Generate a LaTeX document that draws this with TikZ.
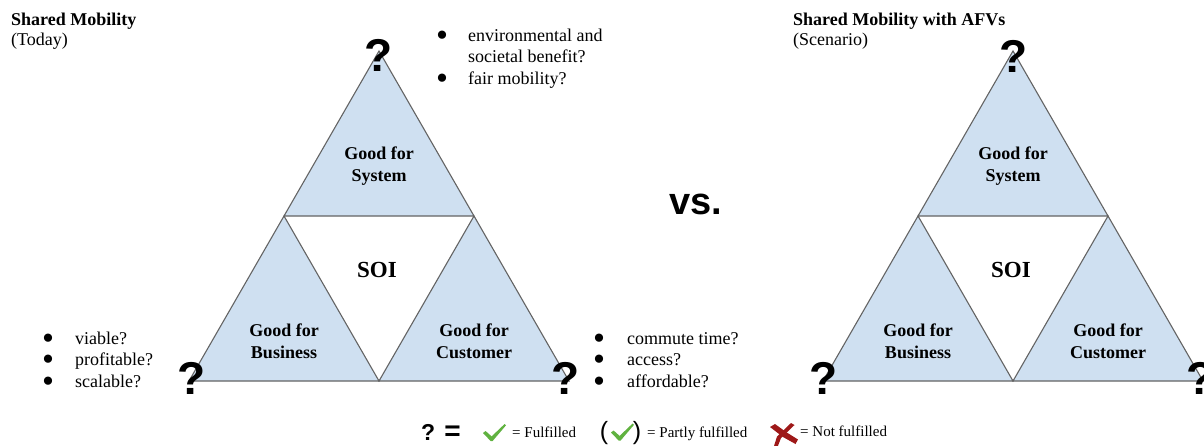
\documentclass[tikz,border=0pt]{standalone}
\usepackage{fontspec}
\setmainfont{Liberation Serif}
\newfontfamily\sansf{Liberation Sans}
\usepackage{array}
\usepackage{graphicx}
\definecolor{tfill}{RGB}{207,224,241}
\definecolor{tline}{RGB}{100,100,100}
\definecolor{okgreen}{RGB}{96,178,64}
\definecolor{xred}{RGB}{158,24,24}
\newcommand\bigbul{\smash{\raisebox{-5.2pt}{\scalebox{1.9}{\textbullet}}}}
\tikzset{
  tri/.style={fill=tfill, draw=tline, line width=1.1pt, line join=miter},
  lbl/.style={font=\fontsize{18}{22}\selectfont\bfseries, align=center, inner sep=0pt},
  soi/.style={font=\fontsize{23}{26}\selectfont\bfseries, inner sep=0pt},
  qm/.style={font=\sansf\bfseries\fontsize{46}{46}\selectfont, inner sep=0pt},
  ttl/.style={font=\fontsize{18}{20}\selectfont, align=left, inner sep=0pt, anchor=base west},
  blist/.style={font=\fontsize{18}{21.5}\selectfont, inner sep=0pt, anchor=base west},
  legtxt/.style={font=\fontsize{15}{17}\selectfont, inner sep=0pt, anchor=base west},
  paren/.style={font=\sansf\fontsize{25}{25}\selectfont, inner sep=0pt},
}
\newcommand\sierpgroup[2]{%
  \begin{scope}[xshift=#2]
    \path[tri] (379,51) -- (284,216) -- (474,216) -- cycle;
    \path[tri] (284,216) -- (189,381) -- (379,381) -- cycle;
    \path[tri] (474,216) -- (379,381) -- (569,381) -- cycle;
    \node[lbl] (#1sys) at (379,166) {Good for\\System};
    \node[soi] (#1soi) at (377,270) {SOI};
    \node[lbl] (#1bus) at (284,341) {Good for\\Business};
    \node[lbl] (#1cus) at (474,341) {Good for\\Customer};
  \end{scope}}
\newcommand\checkmk[1]{%
  \fill[okgreen, shift={#1}] (0,9) -- (2.6,7) -- (8.6,12.4) -- (21.6,0) -- (23,1.3) -- (9.6,17) -- (7.6,17) -- cycle;}
\begin{document}
\begin{tikzpicture}[x=1pt,y=-1pt]
\useasboundingbox (0,0) rectangle (1204,445);
\clip (0,0) rectangle (1204,445);
\fill[white] (0,0) rectangle (1204,445);

% titles
\node[ttl] (t1) at (11,25) {\textbf{Shared Mobility}};
\node[ttl] (t1b) at (11,45) {(Today)};
\node[ttl] (t2) at (793,25) {\textbf{Shared Mobility with AFVs}};
\node[ttl] (t2b) at (793,45) {(Scenario)};

% triangles
\sierpgroup{L}{0}
\sierpgroup{R}{634}

% question marks
\node[qm] (qLa) at (379,55) {?};
\node[qm] (qLl) at (191.5,378.5) {?};
\node[qm] (qLr) at (566,378) {?};
\node[qm] (qRa) at (1013.5,56) {?};
\node[qm] (qRl) at (824,378.5) {?};
\node[qm] (qRr) at (1201,378.5) {?};

% vs.
\node[font=\sansf\bfseries\fontsize{38}{38}\selectfont, inner sep=0pt, anchor=base] (vs) at (696,214) {vs.};

% bullet lists
\node[blist] (lsys) at (436,41) {\begin{tabular}[t]{@{}p{32pt}@{}l@{}}\bigbul & environmental and\\ & societal benefit?\\ \bigbul & fair mobility?\end{tabular}};
\node[blist] (lbus) at (42,344) {\begin{tabular}[t]{@{}p{33pt}@{}l@{}}\bigbul & viable?\\ \bigbul & profitable?\\ \bigbul & scalable?\end{tabular}};
\node[blist] (lcus) at (593,344) {\begin{tabular}[t]{@{}p{34pt}@{}l@{}}\bigbul & commute time?\\ \bigbul & access?\\ \bigbul & affordable?\end{tabular}};

% legend
\node[font=\sansf\bfseries\fontsize{23}{23}\selectfont, inner sep=0pt, anchor=base west] (legq) at (421,440) {?\hspace{9pt}\fontsize{28}{28}\selectfont=};
\checkmk{(483,424)}
\node[legtxt] (lf) at (512,437) {= Fulfilled};
\node[paren] (lp) at (604,433) {(};
\checkmk{(611,423.5)}
\node[paren] (rp) at (637,433) {)};
\node[legtxt] (lpf) at (647,437) {= Partly fulfilled};
\begin{scope}[shift={(770,423)}]
  \fill[xred] (0,4) -- (5,1) -- (16,9) -- (28,16.5) -- (25.5,21) -- (13,14) -- cycle;
  \fill[xred] (21,0) -- (24.5,2) -- (11,15) -- (7.5,24) -- (4,23) -- (7,13.5) -- cycle;
\end{scope}
\node[legtxt] (lnf) at (800,436) {= Not fulfilled};
\end{tikzpicture}
\end{document}
